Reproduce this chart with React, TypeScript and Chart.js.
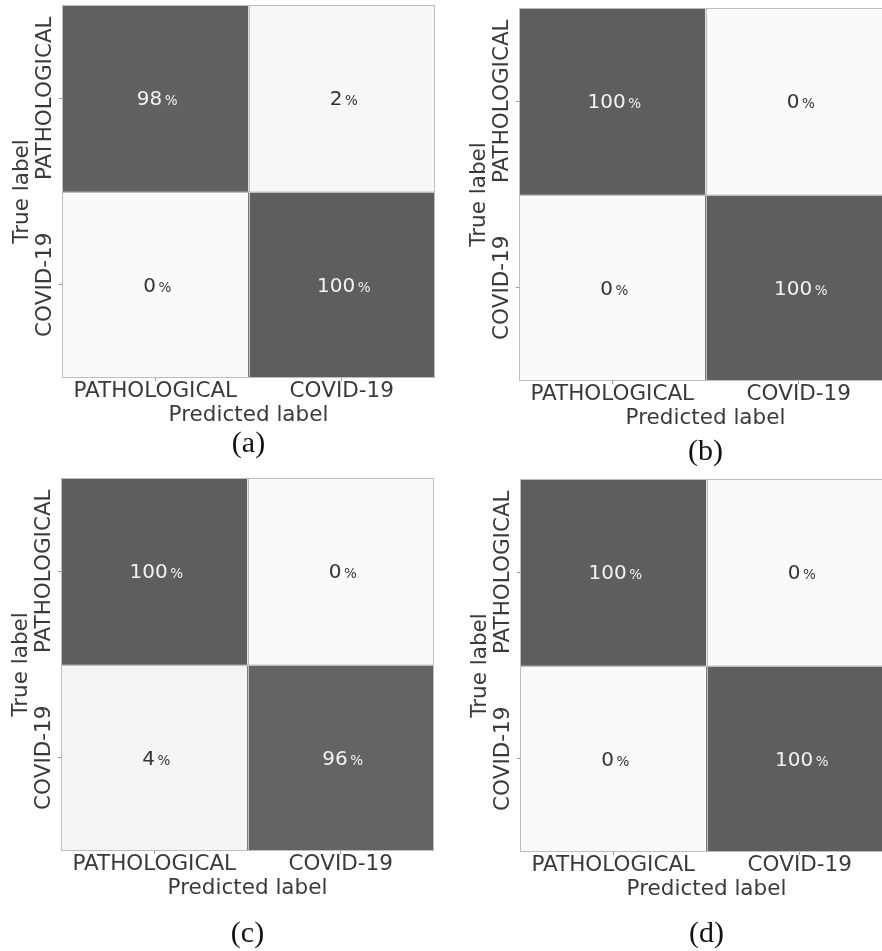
import React, { useEffect, useRef } from 'react';
import { Chart, registerables } from 'chart.js';

Chart.register(...registerables);

// ---- data ----
const predictedLabels = ['PATHOLOGICAL', 'COVID-19'];
const trueLabels = ['PATHOLOGICAL', 'COVID-19'];
const captions = ['(a)', '(b)', '(c)', '(d)'];
// rows = true label, columns = predicted label (percent)
const matrixA = [
  [98, 2],
  [0, 100],
];
const matrixB = [
  [100, 0],
  [0, 100],
];
const matrixC = [
  [100, 0],
  [4, 96],
];
const matrixD = [
  [100, 0],
  [0, 100],
];

const FONT = '"DejaVu Sans", "Liberation Sans", sans-serif';
const TEXT = '#3a3a3a';

function cellColor(v: number): string {
  const g = Math.round(250 - v * 1.56);
  return `rgb(${g},${g},${g})`;
}

const cellPlugin = {
  id: 'cells',
  afterDatasetsDraw(chart: any, _args: any, opts: any) {
    const { ctx, chartArea, scales } = chart;
    const x = scales.x;
    const y = scales.y;
    const matrix: number[][] = opts.matrix;

    // cell separators and outline
    ctx.save();
    ctx.strokeStyle = '#bdbdbd';
    ctx.lineWidth = 1;
    const xm = Math.round(x.getPixelForValue(0.5)) + 0.5;
    const ym = Math.round(y.getPixelForValue(1)) + 0.5;
    ctx.beginPath();
    ctx.moveTo(xm, chartArea.top);
    ctx.lineTo(xm, chartArea.bottom);
    ctx.moveTo(chartArea.left, ym);
    ctx.lineTo(chartArea.right, ym);
    ctx.stroke();
    ctx.strokeRect(
      Math.round(chartArea.left) + 0.5,
      Math.round(chartArea.top) + 0.5,
      Math.round(chartArea.right - chartArea.left) - 1,
      Math.round(chartArea.bottom - chartArea.top) - 1
    );
    ctx.restore();

    // values
    chart.data.datasets.forEach((_ds: any, i: number) => {
      const meta = chart.getDatasetMeta(i);
      meta.data.forEach((bar: any, j: number) => {
        const p = bar.getProps(['x', 'y', 'base'], true);
        const cx = p.x;
        const cy = (p.y + p.base) / 2;
        const v = matrix[i][j];
        const num = String(v);
        ctx.save();
        ctx.fillStyle = v > 50 ? '#f2f2f2' : '#333333';
        ctx.textBaseline = 'alphabetic';
        ctx.textAlign = 'left';
        ctx.font = `20px ${FONT}`;
        const wn = ctx.measureText(num).width;
        ctx.font = `13.5px ${FONT}`;
        const wp = ctx.measureText('%').width;
        const gap = 2.5;
        const start = cx - (wn + gap + wp) / 2 + 2;
        const baseLine = cy + 7;
        ctx.font = `20px ${FONT}`;
        ctx.fillText(num, start, baseLine);
        ctx.font = `13.5px ${FONT}`;
        ctx.fillText('%', start + wn + gap, baseLine);
        ctx.restore();
      });
    });

    // rotated y tick labels
    ctx.save();
    ctx.fillStyle = TEXT;
    ctx.font = `21.5px ${FONT}`;
    ctx.textAlign = 'center';
    ctx.textBaseline = 'middle';
    trueLabels.forEach((lab, i) => {
      const py = y.getPixelForValue(i + 0.5);
      ctx.save();
      ctx.translate(chartArea.left - 17, py);
      ctx.rotate(-Math.PI / 2);
      ctx.fillText(lab, 0, 0);
      ctx.restore();
    });
    ctx.restore();
  },
};

type PanelProps = {
  matrix: number[][];
  caption: string;
  left: number;
  plotTop: number;
  capPad: number;
};

function Panel({ matrix, caption, left, plotTop, capPad }: PanelProps) {
  const ref = useRef<HTMLCanvasElement | null>(null);
  const width = 441;
  const height = 5 + 373 + 50 + 30 + capPad;

  useEffect(() => {
    if (!ref.current) return;
    const chart = new Chart(ref.current, {
      type: 'bar',
      data: {
        labels: predictedLabels,
        datasets: matrix.map((row, i) => ({
          label: trueLabels[i],
          data: predictedLabels.map(() => 1),
          backgroundColor: row.map((v) => cellColor(v)),
          borderWidth: 0,
          barPercentage: 1,
          categoryPercentage: 1,
        })),
      },
      options: {
        responsive: false,
        animation: false,
        devicePixelRatio: 1,
        layout: { padding: { top: 5, left: 0, right: 6, bottom: 0 } },
        scales: {
          x: {
            type: 'category',
            stacked: true,
            offset: true,
            grid: {
              offset: false,
              drawOnChartArea: false,
              drawTicks: true,
              tickLength: 3,
              tickColor: '#9a9a9a',
            },
            border: { display: false },
            ticks: {
              color: TEXT,
              font: { family: FONT, size: 21.5 },
              padding: -2,
              maxRotation: 0,
              minRotation: 0,
            },
            title: {
              display: true,
              text: 'Predicted label',
              color: TEXT,
              font: { family: FONT, size: 21.5 },
              padding: { top: 0, bottom: 0 },
            },
            afterFit: (s: any) => {
              s.height = 50;
            },
          },
          y: {
            type: 'linear',
            stacked: true,
            reverse: true,
            min: 0,
            max: 2,
            afterBuildTicks: (s: any) => {
              s.ticks = [{ value: 0.5 }, { value: 1.5 }];
            },
            grid: {
              drawOnChartArea: false,
              drawTicks: true,
              tickLength: 3,
              tickColor: '#9a9a9a',
            },
            border: { display: false },
            ticks: { display: false },
            title: {
              display: true,
              text: 'True label',
              color: TEXT,
              font: { family: FONT, size: 21.5 },
              padding: { top: 9.5, bottom: 0 },
            },
            afterFit: (s: any) => {
              s.width = 62;
            },
          },
        },
        plugins: {
          legend: { display: false },
          tooltip: { enabled: false },
          title: {
            display: true,
            position: 'bottom',
            fullSize: false,
            text: caption,
            color: '#111111',
            font: { family: '"Liberation Serif", "Times New Roman", serif', size: 30, lineHeight: 1, weight: 'normal' },
            padding: { top: capPad, bottom: 0 },
          },
          cells: { matrix },
        } as any,
      },
      plugins: [cellPlugin],
    });
    return () => chart.destroy();
  }, [matrix, caption, capPad]);

  return (
    <canvas
      ref={ref}
      width={width}
      height={height}
      style={{ position: 'absolute', left, top: plotTop - 5, width, height }}
    />
  );
}

export default function App() {
  return (
    <div
      style={{
        position: 'fixed',
        left: 0,
        top: 0,
        width: 882,
        height: 951,
        overflow: 'hidden',
        background: '#ffffff',
      }}
    >
      <Panel matrix={matrixA} caption={captions[0]} left={0} plotTop={5} capPad={1} />
      <Panel matrix={matrixB} caption={captions[1]} left={457} plotTop={8} capPad={6} />
      <Panel matrix={matrixC} caption={captions[2]} left={-1} plotTop={478} capPad={18} />
      <Panel matrix={matrixD} caption={captions[3]} left={458} plotTop={479} capPad={17} />
    </div>
  );
}
